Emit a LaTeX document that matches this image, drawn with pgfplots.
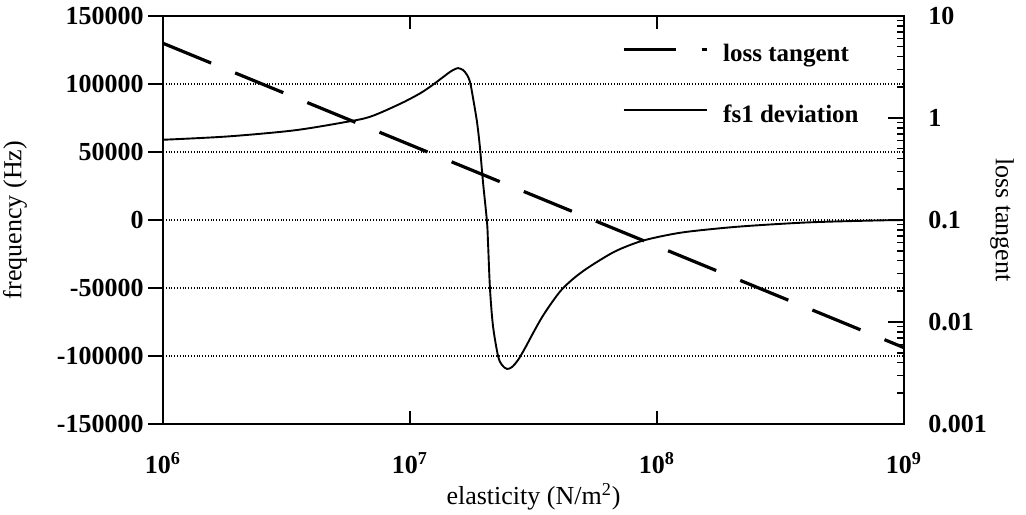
\documentclass[border=0pt]{standalone}
\usepackage{fontspec}
\setmainfont{Liberation Serif}
\usepackage{pgfplots}
\pgfplotsset{compat=1.18}
\newcommand{\tickf}{\bfseries\fontsize{13}{15}\selectfont}
\newcommand{\labf}{\fontsize{13}{15}\selectfont}
\begin{document}
\begin{tikzpicture}
% left y axis: labels, outward major ticks, grid
\begin{axis}[width=370.5pt,height=204pt,scale only axis, xmode=log, xmin=1e6,xmax=1e9,
  axis line style={line width=1pt}, every tick/.style={black,line width=0.8pt},
  name=left,
  ymin=-150000, ymax=150000, scaled y ticks=false,
  axis x line=none, axis y line*=left, xtick=\empty, xminorticks=false,
  ytick={-150000,-100000,-50000,0,50000,100000,150000},
  yticklabels={-150000,-100000,-50000,0,50000,100000,150000},
  yticklabel style={font=\tickf, inner sep=0pt, anchor=east, xshift=-2pt},
  tick align=outside, major tick length=7.5pt, minor y tick num=0,
  ymajorgrids, grid style={densely dotted, line width=0.6pt, black},
  ylabel={frequency (Hz)},
  every axis y label/.style={at={(rel axis cs:-0.1997,0.5)}, rotate=90, anchor=center, font=\labf},
]
\end{axis}
% main box, x axis, minor y ticks, fs1 deviation
\begin{axis}[width=370.5pt,height=204pt,scale only axis, xmode=log, xmin=1e6,xmax=1e9,
  axis line style={line width=1pt}, every tick/.style={black,line width=0.8pt},
  name=main,
  ymin=-150000, ymax=150000, scaled y ticks=false,
  ytick=\empty,
  minor ytick={-140000,-130000,-120000,-110000,-90000,-80000,-70000,-60000,-40000,-30000,-20000,-10000,10000,20000,30000,40000,60000,70000,80000,90000,110000,120000,130000,140000},
  ytick pos=left,
  xtick={1e6,1e7,1e8,1e9},
  xticklabels={10\textsuperscript{6},10\textsuperscript{7},10\textsuperscript{8},10\textsuperscript{9}},
  xminorticks=false, xtick pos=both, xticklabel pos=lower,
  xticklabel style={font=\tickf, anchor=base, yshift=-24.5pt},
  tick align=inside, major tick length=6.5pt, minor tick length=4pt,
  xlabel={elasticity (N/m\textsuperscript{2})},
  every axis x label/.style={at={(rel axis cs:0.5,-0.179)}, anchor=center, font=\labf},
]
\addplot[black, line width=0.95pt, smooth, tension=0.5] table {
x y
1.000e6 59000
1.816e6 61400
3.357e6 65800
5.358e6 71700
6.889e6 75900
9.111e6 85400
1.098e7 93100
1.228e7 99000
1.348e7 104500
1.452e7 108900
1.522e7 111000
1.564e7 111700
1.639e7 110300
1.701e7 106700
1.750e7 101500
1.799e7 89800
1.867e7 72200
1.920e7 53100
1.974e7 28200
2.049e7 -1100
2.069e7 -16500
2.108e7 -50900
2.168e7 -78100
2.272e7 -100000
2.358e7 -106700
2.470e7 -109500
2.588e7 -108100
2.736e7 -103000
2.922e7 -94200
3.148e7 -83200
3.423e7 -71500
3.757e7 -60500
4.125e7 -50900
4.656e7 -42100
5.355e7 -34100
6.761e7 -23100
8.535e7 -15800
1.078e8 -11400
1.360e8 -8400
2.168e8 -4800
4.046e8 -1800
7.480e8 -400
1.000e9 0
};
\end{axis}
% right log axis: loss tangent
\begin{axis}[width=370.5pt,height=204pt,scale only axis, xmode=log, xmin=1e6,xmax=1e9,
  axis line style={line width=1pt}, every tick/.style={black,line width=0.8pt},
  name=right,
  ymode=log, ymin=1e-3, ymax=10,
  axis x line=none, axis y line*=right, xtick=\empty, xminorticks=false,
  ytick={1e-3,1e-2,1e-1,1,10},
  yticklabels={0.001,0.01,0.1,1,10},
  yticklabel style={font=\tickf, inner sep=0pt, anchor=west, xshift=12pt},
  tick align=inside, major tick length=8pt, minor tick length=3.5pt,
  ylabel={loss tangent},
  every axis y label/.style={at={(rel axis cs:1.1323,0.5)}, rotate=-90, anchor=center, font=\labf},
  legend image code/.code={\draw[#1] (0pt,3.3pt) -- (41.5pt,3.3pt);},
  legend style={at={(rel axis cs:0.6194,0.932)}, anchor=north west, draw=none, fill=none,
    inner sep=0pt, outer sep=0pt, row sep=18.5pt, column sep=7.5pt,
    font=\bfseries\fontsize{12.5}{15}\selectfont,
    nodes={inner sep=0pt, text height=9pt, text depth=3pt}},
  legend cell align=left,
]
\addplot[black, line width=1.6pt, dash pattern=on 26pt off 13pt] coordinates {(1e6,5.4) (1e9,0.0056)};
\addlegendentry{loss tangent}
\addlegendimage{black, line width=0.95pt}
\addlegendentry{fs1 deviation}
\end{axis}
\pgfresetboundingbox
\path[use as bounding box] ([xshift=-81.5pt,yshift=-45pt]main.south west) rectangle ([xshift=61pt,yshift=8pt]main.north east);
\end{tikzpicture}
\end{document}
